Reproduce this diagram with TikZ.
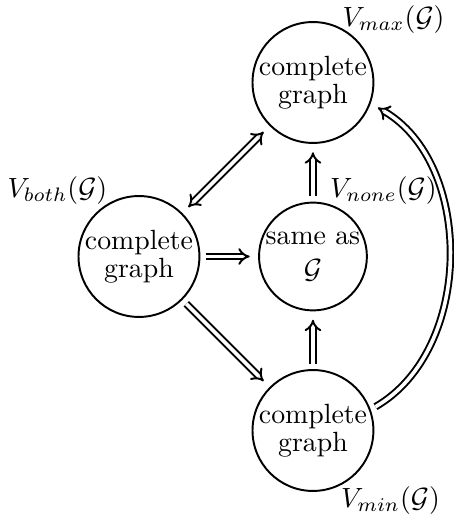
\documentclass[tikz,border=0pt]{standalone}
\usepackage{amsmath,amssymb}
\usepackage{tikz}
\usetikzlibrary{arrows.meta,positioning,calc}
\tikzset{
  vset/.style  ={draw, circle, inner sep=0pt, align=center, line width=.7pt,
                 font=\fontsize{10}{10}\selectfont, minimum size=43.5pt},
  vsame/.style ={vset, font=\normalsize, minimum size=38.8pt},
  lbl/.style   ={inner sep=0pt},
  imp/.style   ={-{Implies[scale=1.25]}, double, double distance=1.3pt, line width=.7pt,
                 shorten >=3pt, shorten <=2pt},
  impt/.style  ={imp, {Implies[scale=1.25]}-{Implies[scale=1.25]}, shorten <=3pt},
}
\begin{document}
\begin{tikzpicture}[node distance=2.2cm, on grid]
  \useasboundingbox (-3.957,-3.319) rectangle (1.783,3.243);
  \node[vsame](none){same as\\$\mathcal{G}$};
  \node[vset, above=of none](vmax){complete\\graph};
  \node[vset, below=of none](vmin){complete\\graph};
  \node[vset, left=of none](both){complete\\graph};
  \node[lbl] (lmax) at ($(vmax)+(1.02,0.80)$) {$V_{max}(\mathcal{G})$};
  \node[lbl] (lboth) at ($(both)+(-1.03,0.83)$) {$V_{both}(\mathcal{G})$};
  \node[lbl] (lnone) at ($(none)+(0.89,0.84)$) {$V_{none}(\mathcal{G})$};
  \node[lbl] (lmin) at ($(vmin)+(0.98,-0.88)$) {$V_{min}(\mathcal{G})$};
  \draw[impt](both)--(vmax);
  \draw[imp](both)--(none);
  \draw[imp](both)--(vmin);
  \draw[imp](none)--(vmax);
  \draw[imp](vmin)--(none);
  \draw[imp](vmin.20) to[out=30,in=-30] (vmax.-20);
\end{tikzpicture}
\end{document}
